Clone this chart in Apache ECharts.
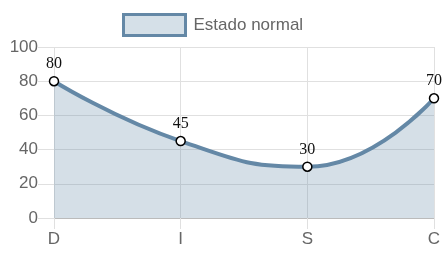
<!DOCTYPE html>
<html><head><meta charset="utf-8">
<script src="https://cdn.jsdelivr.net/npm/echarts@6/dist/echarts.min.js"></script>
<style>html,body{margin:0;padding:0;background:#fff}#c{width:445px;height:261px}</style>
</head><body><div id="c"></div>
<script>
var categories = ['D', 'I', 'S', 'C'];
var values = [80, 45, 30, 70];
var seriesName = 'Estado normal';
var yTicks = [0, 20, 40, 60, 80, 100];

var chart = echarts.init(document.getElementById('c'), null, {renderer: 'canvas'});
var lineColor = 'rgb(100,136,166)';
var fillColor = 'rgba(100,136,166,0.27)';
var font = 'Arial, Liberation Sans, sans-serif';
chart.setOption({
  animation: false,
  legend: {
    top: 13, left: 122, padding: 0,
    itemWidth: 62, itemHeight: 21, itemGap: 10,
    textStyle: {color: '#666', fontSize: 17, fontFamily: font, padding: [0, 0, 0, 3]},
    data: [{name: seriesName, icon: 'rect', itemStyle: {color: 'rgb(213,224,232)', borderColor: lineColor, borderWidth: 3}}]
  },
  grid: {left: 54, right: 11, top: 47, bottom: 43},
  xAxis: {
    type: 'category', data: categories, boundaryGap: false,
    axisLine: {show: true, lineStyle: {color: '#bbb'}},
    axisTick: {show: true, length: 11, lineStyle: {color: '#e0e0e0'}},
    axisLabel: {color: '#666', fontSize: 17, margin: 13, fontFamily: font},
    splitLine: {show: true, lineStyle: {color: '#e0e0e0'}}
  },
  yAxis: {
    type: 'value', min: 0, max: 100, interval: 20,
    axisLine: {show: false},
    axisTick: {show: true, length: 16, lineStyle: {color: '#e0e0e0'}},
    axisLabel: {color: '#666', fontSize: 17, margin: 16, fontFamily: font},
    splitLine: {show: true, lineStyle: {color: '#e0e0e0'}}
  },
  series: [{
    name: seriesName, type: 'line', data: values, smooth: 0.5,
    symbol: 'circle', symbolSize: 9,
    itemStyle: {color: '#fff', borderColor: '#000', borderWidth: 1.5},
    lineStyle: {color: lineColor, width: 4},
    areaStyle: {color: fillColor, opacity: 1},
    label: {show: true, position: 'top', distance: 4, color: '#111', fontSize: 16, fontFamily: 'Liberation Serif, Times New Roman, serif'},
    z: 3
  }]
});
</script></body></html>
